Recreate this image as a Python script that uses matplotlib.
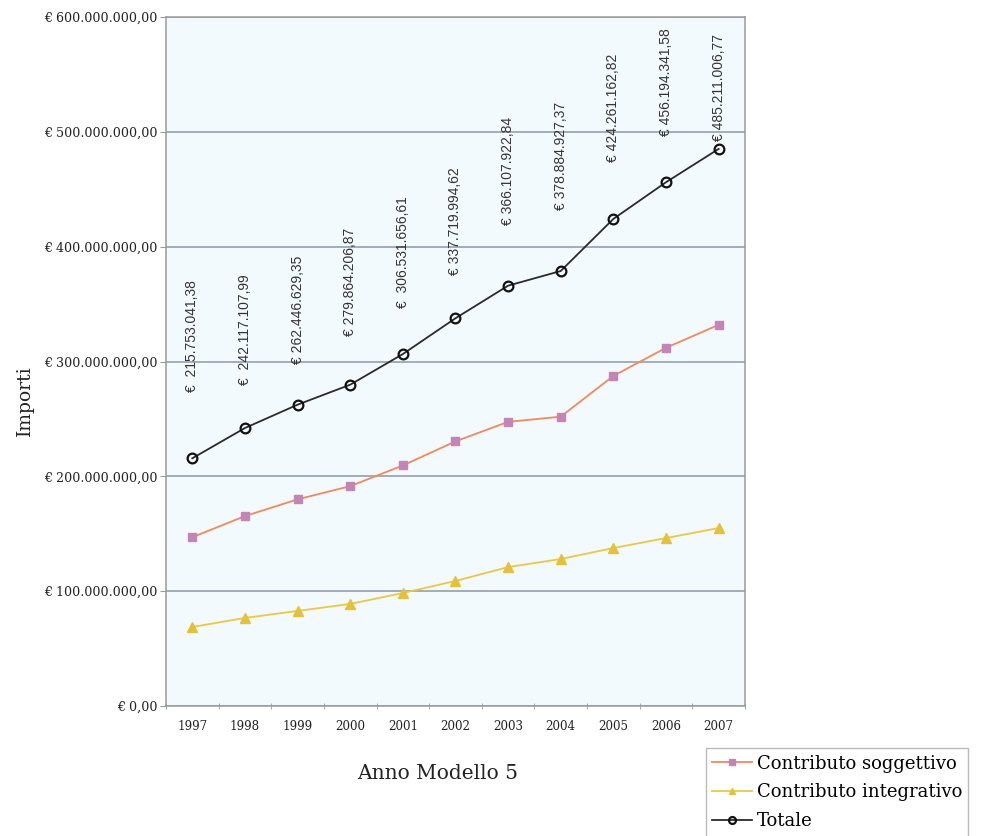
import numpy as np
import matplotlib
matplotlib.use("Agg")
import matplotlib.pyplot as plt
from matplotlib.ticker import FuncFormatter

anni = ['1997', '1998', '1999', '2000', '2001', '2002', '2003', '2004', '2005', '2006', '2007']

totale = [215753041.38, 242117107.99, 262446629.35, 279864206.87, 306531656.61,
          337719994.62, 366107922.84, 378884927.37, 424261162.82, 456194341.58,
          485211006.77]
integrativo = [68.8e6, 76.7e6, 82.8e6, 88.9e6, 98.4e6, 108.9e6, 121.0e6, 128.0e6,
               137.6e6, 146.3e6, 155.0e6]
soggettivo = [147.0e6, 165.4e6, 180.0e6, 191.5e6, 209.5e6, 230.5e6, 247.5e6, 252.0e6,
              287.5e6, 312.0e6, 332.0e6]

etichette = ['€  215.753.041,38', '€  242.117.107,99', '€ 262.446.629,35',
             '€ 279.864.206,87', '€  306.531.656,61', '€ 337.719.994,62',
             '€ 366.107.922,84', '€ 378.884.927,37', '€ 424.261.162,82',
             '€ 456.194.341,58', '€ 485.211.006,77']
# gap between point and label, in points (as in the scanned chart)
gap_etichette = [48, 31, 29, 35, 33, 31, 44, 44, 41, 33, 6]


def euro(v, pos=None):
    s = f"{v:,.2f}".replace(",", "X").replace(".", ",").replace("X", ".")
    return "€ " + s


fig = plt.figure(figsize=(9.88, 8.36), dpi=100)
ax = fig.add_axes([0.168, 0.1555, 0.586, 0.824])
ax.set_facecolor('#f3fafd')

x = np.arange(len(anni))
ax.plot(x, soggettivo, color='#ee8a5e', lw=1.3, marker='s', ms=6,
        mfc='#c285b6', mec='#c285b6', label='Contributo soggettivo', zorder=3)
ax.plot(x, integrativo, color='#e8c84a', lw=1.3, marker='^', ms=6.5,
        mfc='#e3c23a', mec='#e3c23a', label='Contributo integrativo', zorder=3)
ax.plot(x, totale, color='#2a2a2a', lw=1.3, marker='o', ms=7,
        mfc='none', mec='#111111', mew=1.6, label='Totale', zorder=4)

for xi, yi, t, g in zip(x, totale, etichette, gap_etichette):
    ax.annotate(t, (xi, yi), xytext=(0, g), textcoords='offset points',
                rotation=90, ha='center', va='bottom', fontsize=10,
                family='Liberation Sans', color='#333333')

ax.set_xlim(-0.5, len(anni) - 0.5)
ax.set_ylim(0, 600e6)
ax.set_yticks(np.arange(0, 600e6 + 1, 100e6))
ax.yaxis.set_major_formatter(FuncFormatter(euro))
ax.set_xticks(x)
ax.set_xticklabels(anni)
ax.set_xticks(np.arange(-0.5, len(anni), 1), minor=True)
ax.tick_params(axis='x', which='major', length=0, pad=10)
ax.tick_params(axis='x', which='minor', length=4, direction='inout', color='#999999')
ax.tick_params(axis='y', length=4, color='#999999', pad=2)
for lab in ax.get_yticklabels():
    lab.set_family('DejaVu Serif')
    lab.set_fontsize(9.1)
    lab.set_color('#222222')
for lab in ax.get_xticklabels():
    lab.set_family('DejaVu Serif')
    lab.set_fontsize(8.6)
    lab.set_color('#222222')

ax.grid(axis='y', color='#8a98a6', lw=1.1)
ax.set_axisbelow(True)
for s in ax.spines.values():
    s.set_color('#9a9a9a')
    s.set_linewidth(1.1)

fig.text(0.025, 0.521, 'Importi', rotation=90, ha='center', va='center',
         family='DejaVu Serif', fontsize=13.5, color='#222222')
fig.text(0.443, 0.075, 'Anno Modello 5', ha='center', va='center',
         family='DejaVu Serif', fontsize=14.5, color='#222222')

leg = fig.legend(loc='upper left', bbox_to_anchor=(0.7146, 0.105),
                 prop={'family': 'DejaVu Serif', 'size': 13},
                 frameon=True, fancybox=False, handlelength=2.2,
                 handletextpad=0.25, labelspacing=0.6, borderpad=0.35,
                 borderaxespad=0)
leg.get_frame().set_edgecolor('#aaaaaa')
leg.get_frame().set_linewidth(1.0)
for lh in leg.get_lines():
    lh.set_markersize(5)

fig.savefig('out.png', dpi=100, facecolor='white')
